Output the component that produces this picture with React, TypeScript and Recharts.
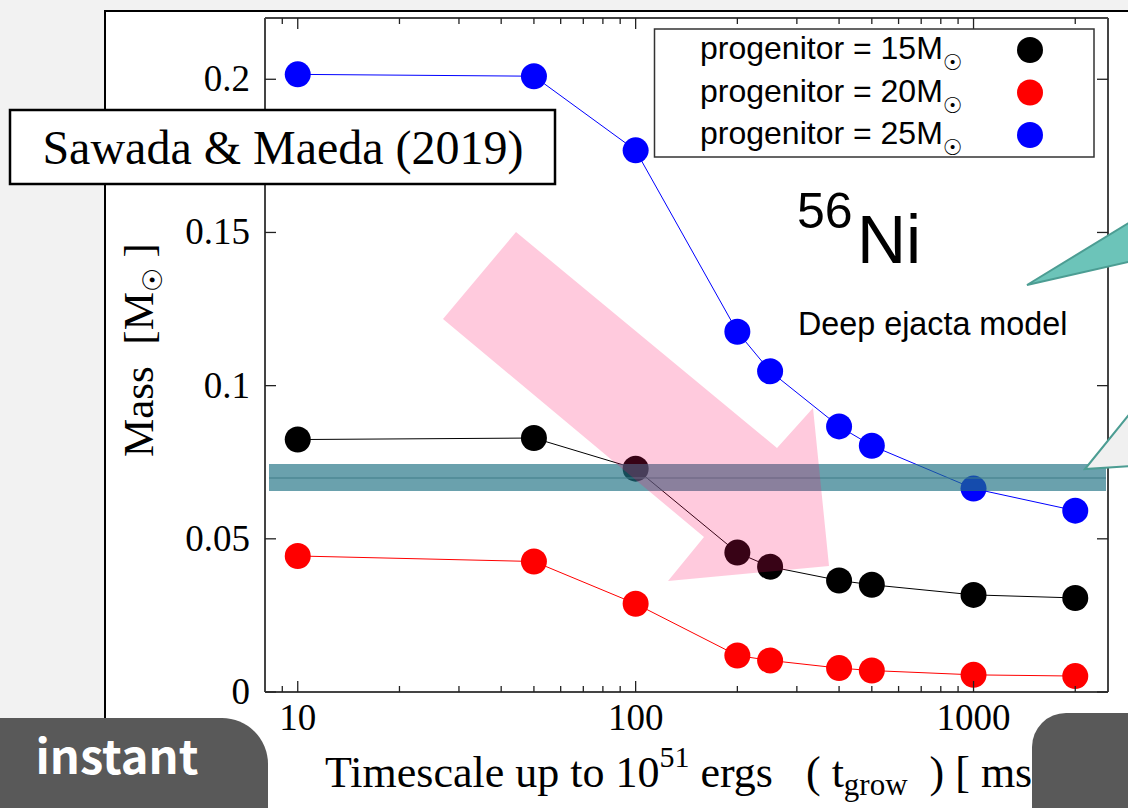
import React from 'react';
import { LineChart, Line, XAxis, YAxis } from 'recharts';

// ---- data ----
const timescales = [10, 50, 100, 200, 250, 400, 500, 1000, 2000];
const mass15 = [0.0824, 0.0829, 0.0729, 0.0455, 0.0409, 0.0364, 0.035, 0.0317, 0.0307];
const mass20 = [0.0444, 0.0426, 0.0288, 0.0119, 0.0103, 0.0078, 0.0070, 0.0056, 0.0052];
const mass25 = [0.2016, 0.201, 0.1768, 0.1176, 0.1047, 0.0867, 0.0804, 0.0664, 0.0592];

const seriesKeys = ['m15', 'm20', 'm25'];
const seriesLabels = ['progenitor = 15M', 'progenitor = 20M', 'progenitor = 25M'];
const seriesColors = ['#000000', '#ff0000', '#0000ff'];

const xMajorTicks = [10, 100, 1000];
const xMinorTicks = [9, 20, 30, 40, 50, 60, 70, 80, 90, 200, 300, 400, 500, 600, 700, 800, 900, 2000];
const yTicks = [0, 0.05, 0.1, 0.15, 0.2];
const xDomain = [8, 2500];
const yDomain = [0, 0.22];

const xLabelMain = 'Timescale up to 10';
const xLabelSup = '51';
const xLabelMid = ' ergs   ( t';
const xLabelSub = 'grow';
const xLabelEnd = '  ) [ ms ]';

const data = timescales.map((t, i) => ({ t, m15: mass15[i], m20: mass20[i], m25: mass25[i] }));
const allXTicks = [...xMajorTicks, ...xMinorTicks].sort((a, b) => a - b);

const SERIF = "'Liberation Serif', 'DejaVu Serif', serif";
const SANS = "'Liberation Sans', Arial, Helvetica, sans-serif";
const AXIS = '#444444';

const BottomTick = (props: any) => {
  const { x, y, payload } = props;
  const major = xMajorTicks.includes(payload.value);
  return (
    <g>
      <line x1={x} x2={x} y1={y} y2={y - (major ? 11 : 6)} stroke="#222" strokeWidth={1.3} />
      {major && (
        <text x={x} y={y + 38} textAnchor="middle" fontFamily={SERIF} fontSize={37} fill="#000">
          {payload.value}
        </text>
      )}
    </g>
  );
};

const TopTick = (props: any) => {
  const { x, y, payload } = props;
  const major = xMajorTicks.includes(payload.value);
  return <line x1={x} x2={x} y1={y} y2={y + (major ? 11 : 6)} stroke="#222" strokeWidth={1.3} />;
};

const LeftTick = (props: any) => {
  const { x, y, payload } = props;
  const v = payload.value;
  return (
    <g>
      <line x1={x} x2={x + 11} y1={y} y2={y} stroke="#222" strokeWidth={1.3} />
      <text x={x - 15} y={y + 12} textAnchor="end" fontFamily={SERIF} fontSize={37} fill="#000">
        {v === 0 ? '0' : String(v)}
      </text>
    </g>
  );
};

const RightTick = (props: any) => {
  const { x, y } = props;
  return <line x1={x} x2={x - 11} y1={y} y2={y} stroke="#222" strokeWidth={1.3} />;
};

export default function App() {
  return (
    <div
      style={{
        position: 'fixed',
        left: 0,
        top: 0,
        width: 1128,
        height: 808,
        background: '#f2f2f2',
        overflow: 'hidden',
      }}
    >
      {/* slide image box */}
      <svg width={1128} height={808} style={{ position: 'absolute', left: 0, top: 0 }}>
        <rect x={105} y={11} width={1100} height={900} fill="#ffffff" stroke="#000" strokeWidth={2} />
      </svg>

      <div style={{ position: 'absolute', left: 0, top: 0 }}>
        <LineChart width={1128} height={808} data={data} margin={{ top: 8, right: 0, bottom: 56, left: 205 }}>
          <XAxis
            xAxisId="b"
            dataKey="t"
            type="number"
            scale="log"
            domain={xDomain}
            allowDataOverflow
            ticks={allXTicks}
            interval={0}
            orientation="bottom"
            height={60}
            tickSize={0}
            tickMargin={0}
            tickLine={false}
            tick={BottomTick}
            axisLine={{ stroke: AXIS, strokeWidth: 2 }}
          />
          <XAxis
            xAxisId="t"
            dataKey="t"
            type="number"
            scale="log"
            domain={xDomain}
            allowDataOverflow
            ticks={allXTicks}
            interval={0}
            orientation="top"
            height={10}
            tickSize={0}
            tickMargin={0}
            tickLine={false}
            tick={TopTick}
            axisLine={{ stroke: AXIS, strokeWidth: 2 }}
          />
          <YAxis
            yAxisId="l"
            type="number"
            domain={yDomain}
            allowDataOverflow
            ticks={yTicks}
            interval={0}
            width={60}
            tickSize={0}
            tickMargin={0}
            tickLine={false}
            tick={LeftTick}
            axisLine={{ stroke: AXIS, strokeWidth: 2 }}
          />
          <YAxis
            yAxisId="r"
            orientation="right"
            type="number"
            domain={yDomain}
            allowDataOverflow
            ticks={yTicks}
            interval={0}
            width={20}
            tickSize={0}
            tickMargin={0}
            tickLine={false}
            tick={RightTick}
            axisLine={{ stroke: AXIS, strokeWidth: 2 }}
          />
          {seriesKeys.map((k, i) => (
            <Line
              key={k}
              xAxisId="b"
              yAxisId="l"
              type="linear"
              dataKey={k}
              name={seriesLabels[i]}
              stroke={seriesColors[i]}
              strokeWidth={1}
              dot={{ r: 13, fill: seriesColors[i], stroke: 'none', strokeWidth: 0 }}
              activeDot={false}
              isAnimationActive={false}
            />
          ))}
        </LineChart>
      </div>

      {/* annotations and slide overlays */}
      <svg
        width={1128}
        height={808}
        style={{ position: 'absolute', left: 0, top: 0, pointerEvents: 'none', whiteSpace: 'pre' }}
      >
        {/* axis labels */}
        <text
          x={153}
          y={350}
          transform="rotate(-90, 153, 350)"
          textAnchor="middle"
          fontFamily={SERIF}
          fontSize={43}
          fill="#000"
          style={{ whiteSpace: 'pre' }}
        >
          {'Mass  [M'}
          <tspan dy={9} fontSize={27}>☉</tspan>
          <tspan dy={-9}>{' ]'}</tspan>
        </text>
        <text x={325} y={787} fontFamily={SERIF} fontSize={44} fill="#000" style={{ whiteSpace: 'pre' }}>
          {xLabelMain}
          <tspan dy={-20} fontSize={30}>{xLabelSup}</tspan>
          <tspan dy={20}>{xLabelMid}</tspan>
          <tspan dy={8} fontSize={31}>{xLabelSub}</tspan>
          <tspan dy={-8}>{xLabelEnd}</tspan>
        </text>

        {/* legend */}
        <rect x={654.5} y={29} width={439.5} height={128} fill="#fff" stroke="#333" strokeWidth={1.5} />
        {seriesLabels.map((lab, i) => (
          <g key={lab}>
            <text x={700} y={59 + 42.5 * i} fontFamily={SANS} fontSize={32} fill="#000">
              {lab}
              <tspan dy={11} fontSize={22} fontFamily="'DejaVu Sans', sans-serif">☉</tspan>
            </text>
            <circle cx={1030} cy={50 + 42.5 * i} r={13} fill={seriesColors[i]} />
          </g>
        ))}

        {/* 56Ni label */}
        <text x={797} y={228} fontFamily={SANS} fontSize={50} fill="#000">56</text>
        <text x={857} y={263} fontFamily={SANS} fontSize={68} fill="#000">Ni</text>
        <text x={798} y={335} fontFamily={SANS} fontSize={32.3} fill="#000">Deep ejacta model</text>

        {/* teal horizontal band */}
        <rect x={269} y={464} width={837} height={27} fill="rgb(31,114,132)" fillOpacity={0.665} />
        <line x1={269} x2={1106} y1={478} y2={478} stroke="#3f7c88" strokeWidth={1.2} />

        {/* pink arrow */}
        <polygon
          points="516,232 777,448 813,408 829,566 668,581 704,537 443,319"
          fill="rgb(255,13,98)"
          fillOpacity={0.22}
        />

        {/* callouts */}
        <polygon points="1027,285 1132,221 1132,261" fill="#6cc4b9" stroke="#4c9d93" strokeWidth={2} />
        <polygon points="1085,469 1132,411 1132,466" fill="#f0f0f0" stroke="#4c9d93" strokeWidth={2} />

        {/* citation box */}
        <rect x={10} y={110} width={545} height={74} fill="#fff" stroke="#000" strokeWidth={2.5} />
        <text x={283} y={164} textAnchor="middle" fontFamily={SERIF} fontSize={48} fill="#000">
          Sawada &amp; Maeda (2019)
        </text>

        {/* bottom buttons */}
        <rect x={-60} y={718} width={328} height={140} rx={46} fill="#595959" />
        <text
          x={117}
          y={774}
          textAnchor="middle"
          fontFamily="'Noto Sans CJK JP', 'Noto Sans', sans-serif"
          fontWeight={700}
          fontSize={47}
          fill="#ffffff"
        >
          instant
        </text>
        <rect x={1032} y={713} width={200} height={140} rx={34} fill="#595959" />
      </svg>
    </div>
  );
}
